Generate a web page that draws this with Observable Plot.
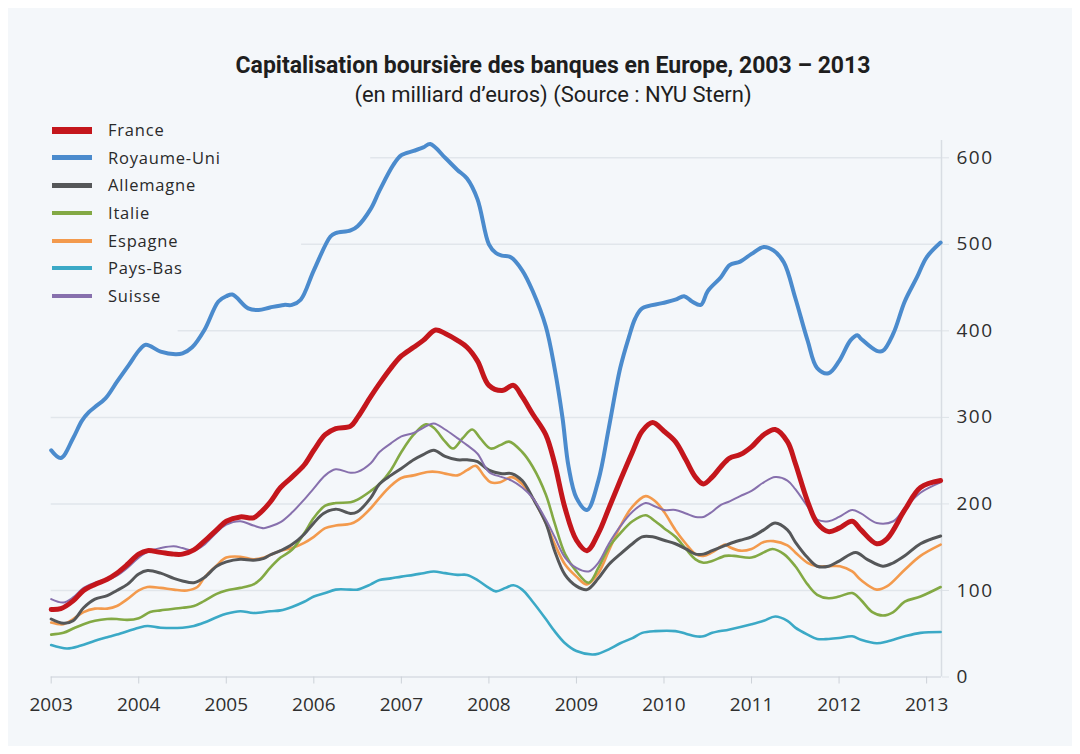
<!DOCTYPE html>
<html>
<head>
<meta charset="utf-8">
<script src="https://cdn.jsdelivr.net/npm/d3@7"></script>
<script src="https://cdn.jsdelivr.net/npm/@observablehq/plot@0.6"></script>
<style>
  html, body { margin: 0; padding: 0; background: #ffffff; }
  #page { position: relative; width: 1080px; height: 754px; overflow: hidden; }
  #panel { position: absolute; left: 8px; top: 8px; width: 1064px; height: 738px; background: #f4f7fa; }
  .title { position: absolute; left: 0; width: 1106px; text-align: center; color: #1e1e1e; font-family: "Liberation Sans Narrow", "Roboto", sans-serif; }
  #t1 { top: 52px; font-size: 23px; font-weight: bold; }
  #t2 { top: 82px; font-size: 22px; }
  #legend { position: absolute; left: 0; top: 0; font-family: "Open Sans", sans-serif; font-size: 16.5px; letter-spacing: 0.8px; color: #2a2a2a; }
  .row { position: absolute; left: 0; height: 20px; width: 300px; }
  .sw { position: absolute; left: 52px; width: 40px; }
  .lab { position: absolute; left: 108px; top: -12px; white-space: nowrap; line-height: 24px; }
  #chart { position: absolute; left: 0; top: 120px; }
</style>
</head>
<body>
<div id="page">
  <div id="panel"></div>
  <div class="title" id="t1">Capitalisation boursière des banques en Europe, 2003 – 2013</div>
  <div class="title" id="t2">(en milliard d’euros) (Source : NYU Stern)</div>
  <div id="chart"></div>
  <div id="legend"></div>
</div>
<script>
// ---- Data (decimal year, milliards d'euros) ----
const france = [[2003.00,78],[2003.11,79],[2003.25,88],[2003.37,100],[2003.50,107],[2003.64,113],[2003.75,120],[2003.87,130],[2004.00,142],[2004.10,146],[2004.25,144],[2004.40,142],[2004.50,142],[2004.63,147],[2004.75,157],[2004.89,170],[2005.00,180],[2005.16,185],[2005.31,184],[2005.39,190],[2005.50,202],[2005.62,219],[2005.75,231],[2005.89,245],[2006.00,262],[2006.13,280],[2006.25,287],[2006.42,290],[2006.50,300],[2006.65,324],[2006.75,339],[2006.88,357],[2007.00,371],[2007.14,381],[2007.25,389],[2007.39,401],[2007.50,397],[2007.64,389],[2007.75,381],[2007.87,365],[2008.00,337],[2008.15,331],[2008.28,337],[2008.38,324],[2008.50,304],[2008.65,280],[2008.75,247],[2008.87,195],[2009.00,158],[2009.12,146],[2009.25,166],[2009.37,195],[2009.50,227],[2009.64,260],[2009.75,284],[2009.87,294],[2010.00,284],[2010.13,272],[2010.25,251],[2010.36,231],[2010.45,223],[2010.55,231],[2010.65,243],[2010.75,253],[2010.87,257],[2011.00,266],[2011.14,280],[2011.27,286],[2011.41,272],[2011.50,247],[2011.64,203],[2011.75,178],[2011.88,168],[2012.00,172],[2012.15,180],[2012.25,170],[2012.43,154],[2012.55,160],[2012.75,193],[2012.93,219],[2013.16,227]];
const royaumeUni = [[2003.00,262],[2003.11,253],[2003.25,276],[2003.35,296],[2003.43,306],[2003.50,312],[2003.62,322],[2003.75,341],[2003.89,361],[2004.00,377],[2004.08,384],[2004.25,376],[2004.42,373],[2004.50,374],[2004.61,381],[2004.75,401],[2004.91,434],[2005.00,440],[2005.07,442],[2005.25,426],[2005.37,424],[2005.50,427],[2005.66,430],[2005.75,430],[2005.85,436],[2006.00,470],[2006.19,509],[2006.25,513],[2006.42,516],[2006.50,521],[2006.65,541],[2006.75,562],[2006.91,592],[2007.00,603],[2007.14,608],[2007.25,612],[2007.33,616],[2007.50,600],[2007.64,586],[2007.75,576],[2007.87,552],[2008.00,500],[2008.08,490],[2008.15,487],[2008.25,485],[2008.38,470],[2008.50,446],[2008.65,405],[2008.75,357],[2008.84,300],[2008.91,243],[2009.00,207],[2009.12,193],[2009.25,227],[2009.37,288],[2009.50,357],[2009.60,393],[2009.67,414],[2009.75,426],[2009.98,432],[2010.13,436],[2010.23,440],[2010.32,434],[2010.42,430],[2010.50,446],[2010.65,462],[2010.75,476],[2010.87,480],[2011.00,489],[2011.14,497],[2011.25,493],[2011.37,479],[2011.50,438],[2011.64,389],[2011.75,357],[2011.88,351],[2012.00,365],[2012.13,389],[2012.21,395],[2012.25,391],[2012.43,377],[2012.50,377],[2012.62,397],[2012.75,434],[2012.89,462],[2013.00,485],[2013.16,502]];
const allemagne = [[2003.00,67],[2003.14,62],[2003.25,65],[2003.37,80],[2003.50,90],[2003.64,94],[2003.75,100],[2003.87,107],[2004.00,119],[2004.10,123],[2004.25,120],[2004.40,114],[2004.50,111],[2004.63,109],[2004.75,115],[2004.89,128],[2005.00,133],[2005.16,136],[2005.31,135],[2005.43,137],[2005.50,141],[2005.62,146],[2005.75,153],[2005.89,165],[2006.00,178],[2006.11,189],[2006.25,194],[2006.42,189],[2006.50,191],[2006.65,207],[2006.75,223],[2006.88,233],[2007.00,241],[2007.14,251],[2007.25,257],[2007.37,262],[2007.50,255],[2007.64,251],[2007.75,251],[2007.87,249],[2008.00,239],[2008.15,235],[2008.26,235],[2008.38,227],[2008.50,207],[2008.65,178],[2008.75,146],[2008.87,118],[2009.00,105],[2009.12,101],[2009.25,114],[2009.37,130],[2009.50,142],[2009.64,154],[2009.75,162],[2009.87,162],[2010.00,158],[2010.13,154],[2010.25,148],[2010.36,142],[2010.45,142],[2010.55,146],[2010.70,152],[2010.75,154],[2010.87,158],[2011.00,162],[2011.14,170],[2011.27,178],[2011.41,170],[2011.50,156],[2011.64,138],[2011.75,128],[2011.88,128],[2012.00,134],[2012.19,144],[2012.32,136],[2012.50,128],[2012.62,132],[2012.75,140],[2012.93,154],[2013.16,163]];
const italie = [[2003.00,49],[2003.14,51],[2003.25,56],[2003.37,61],[2003.50,65],[2003.64,67],[2003.75,67],[2003.87,66],[2004.00,68],[2004.13,75],[2004.25,77],[2004.50,80],[2004.63,82],[2004.75,88],[2004.89,96],[2005.00,100],[2005.16,103],[2005.31,107],[2005.39,113],[2005.50,126],[2005.62,138],[2005.75,147],[2005.89,166],[2006.00,184],[2006.13,198],[2006.25,201],[2006.42,202],[2006.50,205],[2006.65,215],[2006.75,223],[2006.88,239],[2007.00,260],[2007.14,280],[2007.28,292],[2007.37,288],[2007.50,272],[2007.59,264],[2007.70,276],[2007.81,286],[2007.90,276],[2008.02,264],[2008.13,268],[2008.23,272],[2008.38,260],[2008.50,243],[2008.65,211],[2008.75,178],[2008.87,142],[2009.00,122],[2009.14,109],[2009.25,126],[2009.37,150],[2009.50,166],[2009.64,180],[2009.79,187],[2009.90,180],[2010.00,172],[2010.13,162],[2010.25,148],[2010.36,136],[2010.45,132],[2010.55,134],[2010.70,140],[2010.80,140],[2011.00,138],[2011.14,144],[2011.24,148],[2011.37,142],[2011.50,128],[2011.64,107],[2011.75,95],[2011.88,91],[2012.00,93],[2012.15,97],[2012.25,89],[2012.38,75],[2012.50,71],[2012.62,75],[2012.75,87],[2012.93,93],[2013.16,104]];
const espagne = [[2003.00,63],[2003.14,61],[2003.25,67],[2003.37,75],[2003.50,79],[2003.64,79],[2003.75,82],[2003.87,90],[2004.00,100],[2004.10,104],[2004.25,103],[2004.40,101],[2004.55,100],[2004.67,104],[2004.75,115],[2004.89,129],[2005.00,138],[2005.16,139],[2005.31,136],[2005.43,138],[2005.50,141],[2005.62,146],[2005.75,149],[2005.89,155],[2006.00,162],[2006.13,172],[2006.25,175],[2006.42,177],[2006.50,181],[2006.65,195],[2006.75,207],[2006.88,221],[2007.00,230],[2007.14,233],[2007.30,237],[2007.41,237],[2007.50,235],[2007.64,233],[2007.75,239],[2007.85,244],[2007.94,233],[2008.02,225],[2008.13,225],[2008.26,231],[2008.38,223],[2008.50,207],[2008.65,178],[2008.75,154],[2008.87,130],[2009.00,116],[2009.12,107],[2009.25,120],[2009.37,146],[2009.50,174],[2009.64,197],[2009.79,209],[2009.90,203],[2010.00,191],[2010.13,170],[2010.25,154],[2010.36,142],[2010.45,140],[2010.55,144],[2010.70,153],[2010.75,150],[2010.87,146],[2011.00,148],[2011.14,156],[2011.25,157],[2011.41,152],[2011.50,144],[2011.64,132],[2011.75,128],[2011.88,128],[2012.01,128],[2012.15,122],[2012.25,112],[2012.43,101],[2012.55,105],[2012.75,124],[2012.93,140],[2013.16,153]];
const paysBas = [[2003.00,37],[2003.18,33],[2003.33,36],[2003.50,42],[2003.64,46],[2003.75,49],[2004.00,57],[2004.10,59],[2004.25,57],[2004.50,57],[2004.63,59],[2004.75,63],[2004.89,69],[2005.00,73],[2005.16,76],[2005.31,74],[2005.50,76],[2005.62,77],[2005.75,81],[2005.89,87],[2006.00,93],[2006.13,97],[2006.25,101],[2006.42,101],[2006.50,101],[2006.65,107],[2006.75,112],[2006.88,114],[2007.00,116],[2007.14,118],[2007.25,120],[2007.37,122],[2007.50,120],[2007.64,118],[2007.75,118],[2007.87,112],[2008.00,103],[2008.08,99],[2008.19,103],[2008.28,106],[2008.38,101],[2008.50,87],[2008.65,67],[2008.75,53],[2008.87,39],[2009.00,30],[2009.18,26],[2009.25,27],[2009.37,32],[2009.50,39],[2009.64,45],[2009.75,51],[2009.90,53],[2010.13,53],[2010.25,50],[2010.36,47],[2010.45,47],[2010.55,51],[2010.75,55],[2011.00,61],[2011.14,65],[2011.27,70],[2011.41,65],[2011.50,57],[2011.64,49],[2011.75,44],[2011.88,44],[2012.00,45],[2012.15,47],[2012.25,43],[2012.43,39],[2012.55,41],[2012.75,47],[2012.93,51],[2013.16,52]];
const suisse = [[2003.00,90],[2003.14,86],[2003.25,92],[2003.37,103],[2003.50,109],[2003.64,112],[2003.75,117],[2003.87,126],[2004.00,138],[2004.13,146],[2004.25,149],[2004.40,151],[2004.50,149],[2004.63,146],[2004.75,153],[2004.89,167],[2005.00,176],[2005.16,180],[2005.31,175],[2005.43,172],[2005.50,174],[2005.62,179],[2005.75,190],[2005.89,205],[2006.00,218],[2006.13,233],[2006.25,240],[2006.42,236],[2006.50,237],[2006.65,247],[2006.75,260],[2006.88,270],[2007.00,278],[2007.14,282],[2007.25,288],[2007.37,293],[2007.50,286],[2007.64,276],[2007.75,268],[2007.87,258],[2008.00,237],[2008.15,231],[2008.26,227],[2008.38,219],[2008.50,207],[2008.65,182],[2008.75,162],[2008.87,138],[2009.00,126],[2009.14,122],[2009.25,132],[2009.37,154],[2009.50,174],[2009.64,191],[2009.79,201],[2009.90,197],[2010.00,193],[2010.13,193],[2010.25,189],[2010.36,185],[2010.45,185],[2010.55,191],[2010.65,199],[2010.75,203],[2010.87,209],[2011.00,215],[2011.14,225],[2011.27,231],[2011.41,227],[2011.50,217],[2011.64,197],[2011.75,182],[2011.88,180],[2012.00,185],[2012.15,193],[2012.25,189],[2012.43,178],[2012.62,180],[2012.75,195],[2012.93,213],[2013.16,225]];

const seriesNames = ["France", "Royaume-Uni", "Allemagne", "Italie", "Espagne", "Pays-Bas", "Suisse"];
const seriesValues = [france, royaumeUni, allemagne, italie, espagne, paysBas, suisse];
const xTicks = [2003, 2004, 2005, 2006, 2007, 2008, 2009, 2010, 2011, 2012, 2013];
const yTicks = [0, 100, 200, 300, 400, 500, 600];
const gridFrom = [2003, 2003, 2003, 2003, 2004.45, 2005.86, 2006.65];
const xDomain = [2003, 2013.17];
const yDomain = [0, 620];

// ---- Styles ----
const colors = ["#c4161c", "#4b8bcd", "#555759", "#83a944", "#f39a4d", "#3ba9c6", "#8770ad"];
const widths = [5, 4, 3, 2.6, 2.6, 2.6, 2];
const legendWidths = [7, 5.5, 4.5, 4, 4, 4, 4];
const drawOrder = [5, 4, 3, 2, 6, 1, 0];

const gridRows = yTicks.map((v, i) => ({v, from: gridFrom[i]})).filter(d => d.v > 0);

const lineMarks = drawOrder.map(i =>
  Plot.line(seriesValues[i], {
    x: d => d[0], y: d => d[1],
    stroke: colors[i], strokeWidth: widths[i],
    curve: "catmull-rom", strokeLinejoin: "round", strokeLinecap: "round"
  })
);

const chart = Plot.plot({
  width: 1080,
  height: 610,
  marginLeft: 50.7,
  marginRight: 139,
  marginTop: 20,
  marginBottom: 53.5,
  x: {domain: xDomain},
  y: {domain: yDomain},
  style: {fontFamily: "Open Sans, sans-serif", fontSize: "19px", background: "transparent", color: "#2f2f2f", overflow: "visible"},
  marks: [
    Plot.ruleY(gridRows, {y: "v", x1: "from", x2: () => xDomain[1], stroke: "#e1e6eb", strokeWidth: 1.5}),
    Plot.ruleY([0], {x1: xDomain[0], x2: xDomain[1], stroke: "#d8dde3", strokeWidth: 1.5}),
    Plot.ruleX([xDomain[1]], {y1: yDomain[0], y2: yDomain[1], stroke: "#d8dde3", strokeWidth: 1.5}),
    Plot.axisX({ticks: xTicks, tickSize: 7, tickPadding: 13, tickFormat: d => String(d), label: null, stroke: "#cdd2d8", fill: "#2f2f2f"}),
    Plot.axisY({anchor: "right", ticks: yTicks, tickSize: 7, tickPadding: 8, label: null, stroke: "#dde2e7", fill: "#2f2f2f", tickFormat: d => String(d)}),
    ...lineMarks
  ]
});
chart.querySelectorAll('g[aria-label="y-axis tick label"] text').forEach(t => t.setAttribute("letter-spacing", "1.5"));
document.getElementById("chart").appendChild(chart);

// ---- Legend ----
const legend = document.getElementById("legend");
const rowY = [130, 157.7, 185.3, 213, 240.7, 268.4, 296];
seriesNames.forEach((name, i) => {
  const row = document.createElement("div");
  row.className = "row";
  row.style.top = rowY[i] + "px";
  const sw = document.createElement("div");
  sw.className = "sw";
  sw.style.height = legendWidths[i] + "px";
  sw.style.top = (-legendWidths[i] / 2) + "px";
  sw.style.background = colors[i];
  const lab = document.createElement("div");
  lab.className = "lab";
  lab.textContent = name;
  row.appendChild(sw);
  row.appendChild(lab);
  legend.appendChild(row);
});
</script>
</body>
</html>
